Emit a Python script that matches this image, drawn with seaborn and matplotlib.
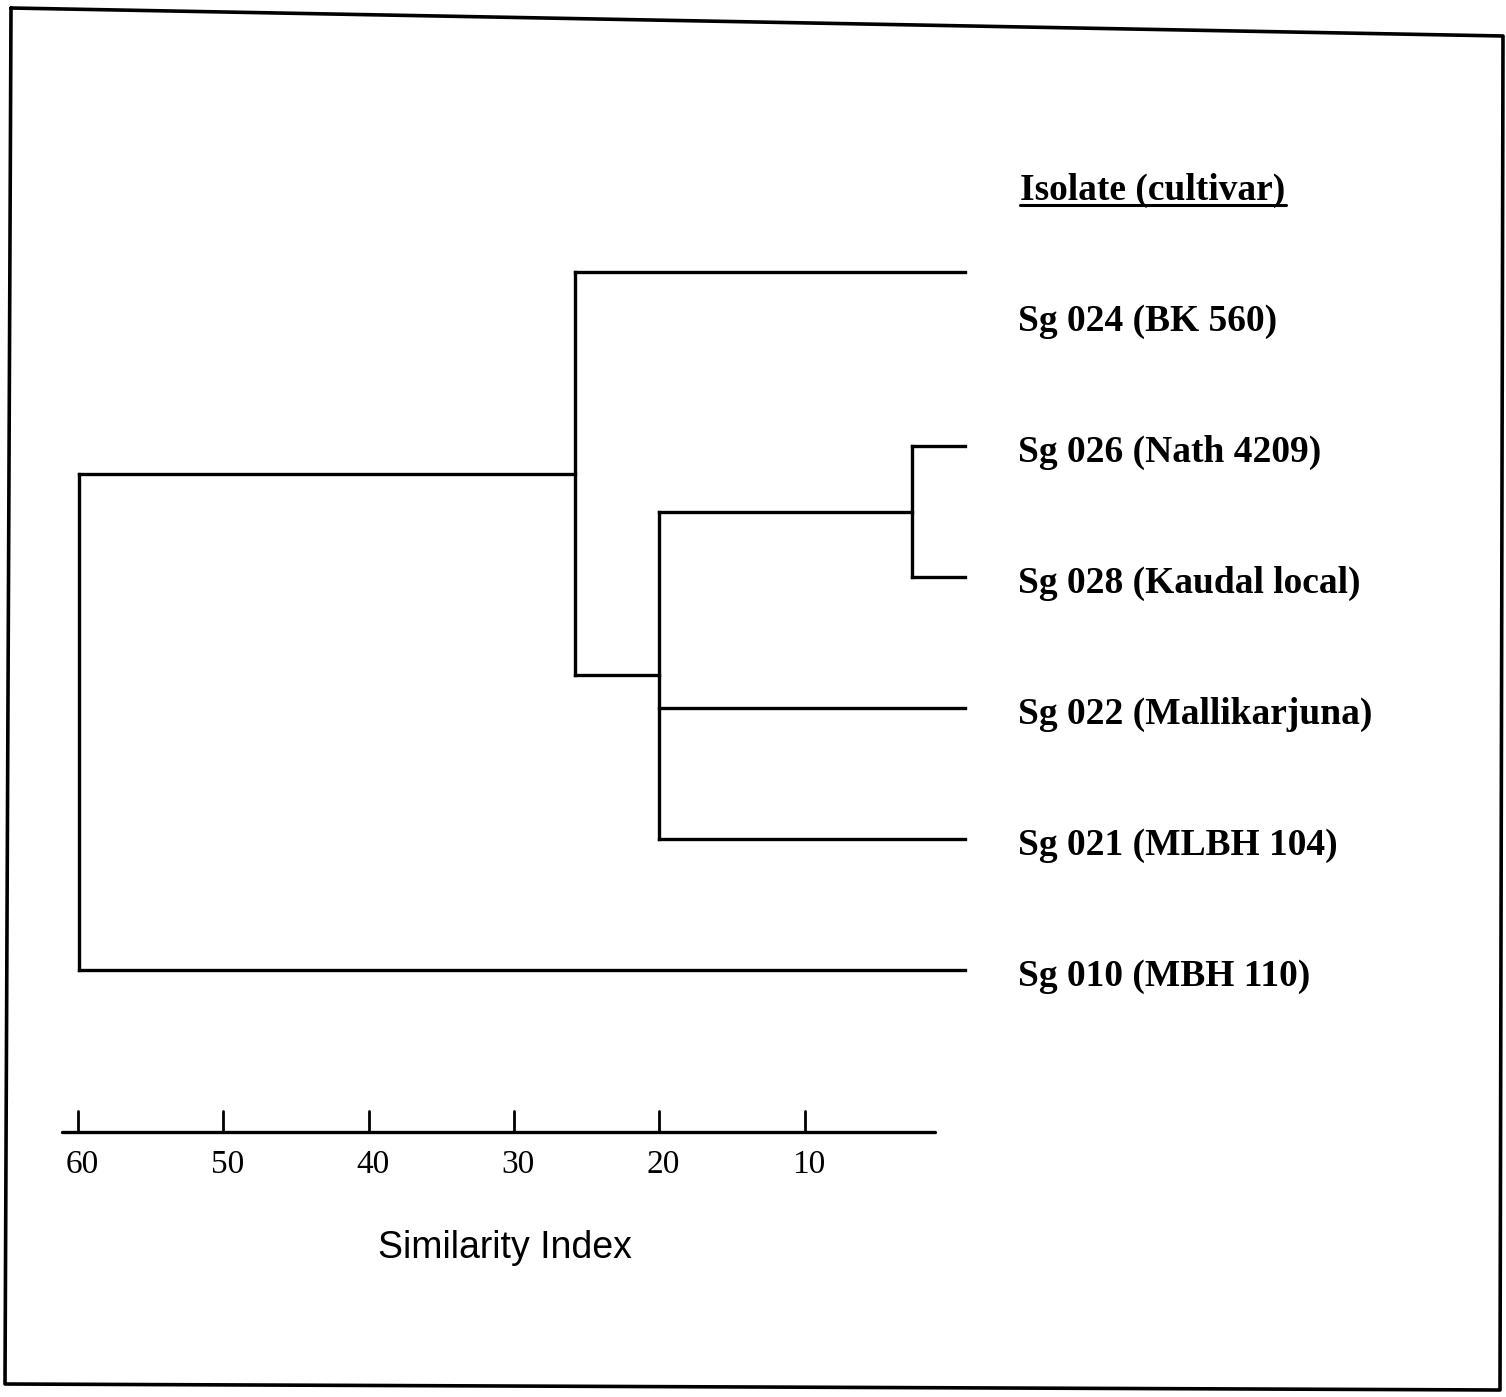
"""
Similarity dendrogram of Sg isolates (cultivar), redrawn from a scanned figure.
"""

import matplotlib
matplotlib.use("Agg")

import matplotlib.pyplot as plt
import seaborn as sns
from matplotlib.lines import Line2D

# --- data -----------------------------------------------------------------
LEAVES = [
    "Sg 024 (BK 560)",
    "Sg 026 (Nath 4209)",
    "Sg 028 (Kaudal local)",
    "Sg 022 (Mallikarjuna)",
    "Sg 021 (MLBH 104)",
    "Sg 010 (MBH 110)",
]

# clusters, merged bottom-up, with the similarity index at which they join
CLUSTER_NAMES = ["A", "B", "C", "D"]
CLUSTER_MEMBERS = [
    ["Sg 026 (Nath 4209)", "Sg 028 (Kaudal local)"],
    ["A", "Sg 022 (Mallikarjuna)", "Sg 021 (MLBH 104)"],
    ["Sg 024 (BK 560)", "B"],
    ["C", "Sg 010 (MBH 110)"],
]
CLUSTER_HEIGHTS = [2.6, 20.0, 25.8, 59.9]

SCALE_TICKS = [60, 50, 40, 30, 20, 10]

HEADER = "Isolate (cultivar)"
AXIS_TITLE = "Similarity Index"

# --- layout ---------------------------------------------------------------
LEAF_TIP = -1.05          # where the leaf branches stop on the index scale
FIRST_LINE_SHIFT = -0.33  # the top branch sits above its label in the original
LW = 2.4

sns.set_theme(style="white")
plt.rcParams["font.family"] = ["Liberation Serif", "DejaVu Serif"]

fig = plt.figure(figsize=(15.06, 13.97), dpi=100)
ax = fig.add_axes([0, 0, 1, 1])
ax.set_xlim(60 + 78 / 14.53, 60 - (1506 - 78) / 14.53)
ax.set_ylim(1 + (1397 - 446) / 131, 1 - 446 / 131)
ax.axis("off")

# leaf positions
node_y = {}
node_h = {}
for i, leaf in enumerate(LEAVES):
    node_y[leaf] = i + (FIRST_LINE_SHIFT if i == 0 else 0.0)
    node_h[leaf] = LEAF_TIP

# branches
for name, members, height in zip(CLUSTER_NAMES, CLUSTER_MEMBERS, CLUSTER_HEIGHTS):
    ys = [node_y[m] for m in members]
    for m in members:
        ax.plot([node_h[m], height], [node_y[m], node_y[m]],
                color="black", lw=LW, solid_capstyle="projecting")
    ax.plot([height, height], [min(ys), max(ys)],
            color="black", lw=LW, solid_capstyle="projecting")
    node_y[name] = (min(ys) + max(ys)) / 2
    node_h[name] = height

# leaf labels
for i, leaf in enumerate(LEAVES):
    ax.text(-4.7, i + 0.05, leaf, fontsize=27, fontweight="bold",
            ha="left", va="center", color="black")

# header with underline
header = ax.text(-4.85, -0.95, HEADER, fontsize=27, fontweight="bold",
                 ha="left", va="center", color="black")
fig.canvas.draw()
bb = header.get_window_extent().transformed(ax.transData.inverted())
ax.plot([bb.x0, bb.x1], [bb.y0 - 0.02, bb.y0 - 0.02], color="black", lw=2.2)

# similarity scale bar
bar_y = 6.237
ax.plot([61.1, 1.0], [bar_y, bar_y], color="black", lw=LW)
for t in SCALE_TICKS:
    ax.plot([t, t], [bar_y, bar_y - 0.16], color="black", lw=2.0)
    ax.text(t - 0.3, bar_y + 0.25, str(t), fontsize=24, ha="center",
            va="center", color="black")

ax.text(30.6, 7.12, AXIS_TITLE, fontsize=27, ha="center", va="center",
        color="black", family=["Liberation Sans", "DejaVu Sans"])

# scanned page frame
frame = Line2D([11, 1503, 1500, 5, 11], [1397 - 8, 1397 - 36, 1397 - 1390, 1397 - 1384, 1397 - 8],
               transform=None, color="black", lw=2.6)
fig.add_artist(frame)

fig.savefig("out.png", dpi=100, facecolor="white")
plt.close(fig)
